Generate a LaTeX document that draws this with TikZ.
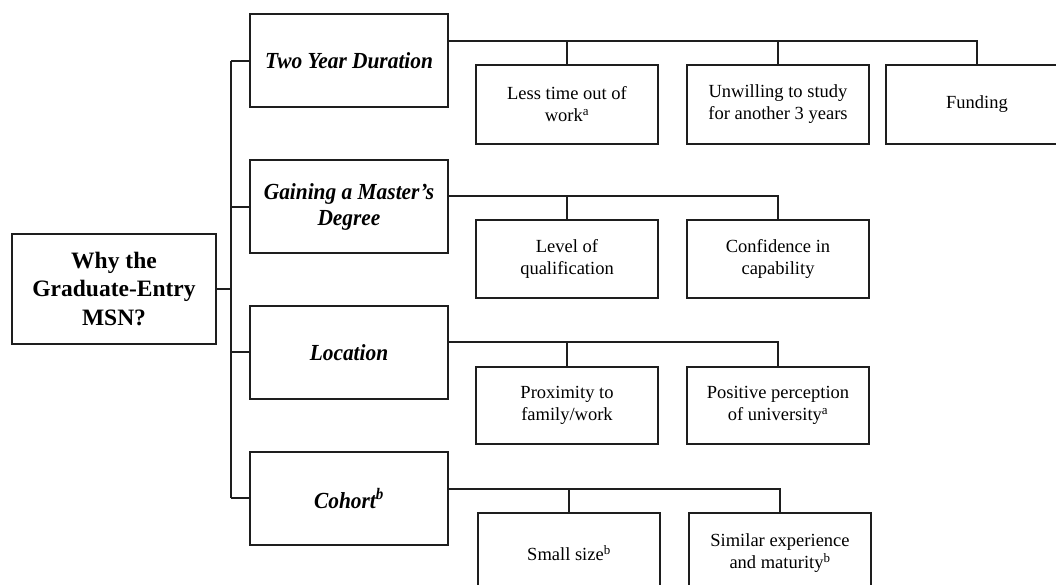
\documentclass[tikz,border=0pt]{standalone}
\usepackage{fontspec}
\setmainfont{Liberation Serif}
\newfontfamily\catfont[FakeStretch=0.93]{Liberation Serif}
\definecolor{ink}{RGB}{30,30,30}
\begin{document}
\begin{tikzpicture}[x=1pt,y=-1pt,
  box/.style={draw=ink, line width=1.5pt, inner sep=2pt, align=center, text=black},
  rootbox/.style={box, minimum width=204pt, minimum height=110pt, font=\fontsize{23.5}{28.5}\selectfont\bfseries},
  catbox/.style={box, minimum width=198pt, minimum height=93pt, font=\catfont\fontsize{23}{26}\selectfont\bfseries\itshape},
  subbox/.style={box, minimum width=182pt, font=\fontsize{18.5}{22}\selectfont},
  link/.style={draw=ink, line width=1.5pt}]
\useasboundingbox (0,0) rectangle (1056,585);
\clip (0,0) rectangle (1056,585);

% root
\node[rootbox] (root) at (114,289) {Why the\\Graduate-Entry\\MSN?};

% categories
\node[catbox] (two) at (349,60.5) {Two Year Duration};
\node[catbox] (gain) at (349,206.5) {Gaining a Master’s\\Degree};
\node[catbox] (loc) at (349,352.5) {Location};
\node[catbox] (coh) at (349,498.5) {Cohort\textsuperscript{b}};

% sub boxes row 1
\node[subbox, minimum height=79pt] (less) at (567,104.5) {Less time out of\\work\textsuperscript{a}};
\node[subbox, minimum height=79pt] (unw) at (778,104.5) {Unwilling to study\\for another 3 years};
\node[subbox, minimum height=79pt] (fund) at (977,104.5) {Funding};
% row 2
\node[subbox, minimum height=78pt] (lev) at (567,259) {Level of\\qualification};
\node[subbox, minimum height=78pt] (conf) at (778,259) {Confidence in\\capability};
% row 3
\node[subbox, minimum height=77pt] (prox) at (567,405.5) {Proximity to\\family/work};
\node[subbox, minimum height=77pt] (pos) at (778,405.5) {Positive perception\\of university\textsuperscript{a}};
% row 4
\node[subbox, minimum height=80pt] (small) at (569,553) {Small size\textsuperscript{b}};
\node[subbox, minimum height=80pt] (sim) at (780,553) {Similar experience\\and maturity\textsuperscript{b}};

% trunk
\coordinate (trunktop) at (231,61);
\coordinate (trunkbot) at (231,498);
\path[link] (trunktop) -- (trunkbot);
\path[link] (root.east) -- (root.east -| trunktop);
\path[link] (trunktop) -- (trunktop -| two.west);
\path[link] (231,207) -- (231,207 -| gain.west);
\path[link] (231,352) -- (231,352 -| loc.west);
\path[link] (trunkbot) -- (trunkbot -| coh.west);

% buses
\coordinate (b1) at (0,41);
\coordinate (b2) at (0,196);
\coordinate (b3) at (0,342);
\coordinate (b4) at (0,489);
\path[link] (two.east |- b1) -- (fund.north |- b1) -- (fund.north);
\path[link] (less.north) -- (less.north |- b1);
\path[link] (unw.north) -- (unw.north |- b1);
\path[link] (gain.east |- b2) -- (conf.north |- b2) -- (conf.north);
\path[link] (lev.north) -- (lev.north |- b2);
\path[link] (loc.east |- b3) -- (pos.north |- b3) -- (pos.north);
\path[link] (prox.north) -- (prox.north |- b3);
\path[link] (coh.east |- b4) -- (sim.north |- b4) -- (sim.north);
\path[link] (small.north) -- (small.north |- b4);
\end{tikzpicture}
\end{document}
